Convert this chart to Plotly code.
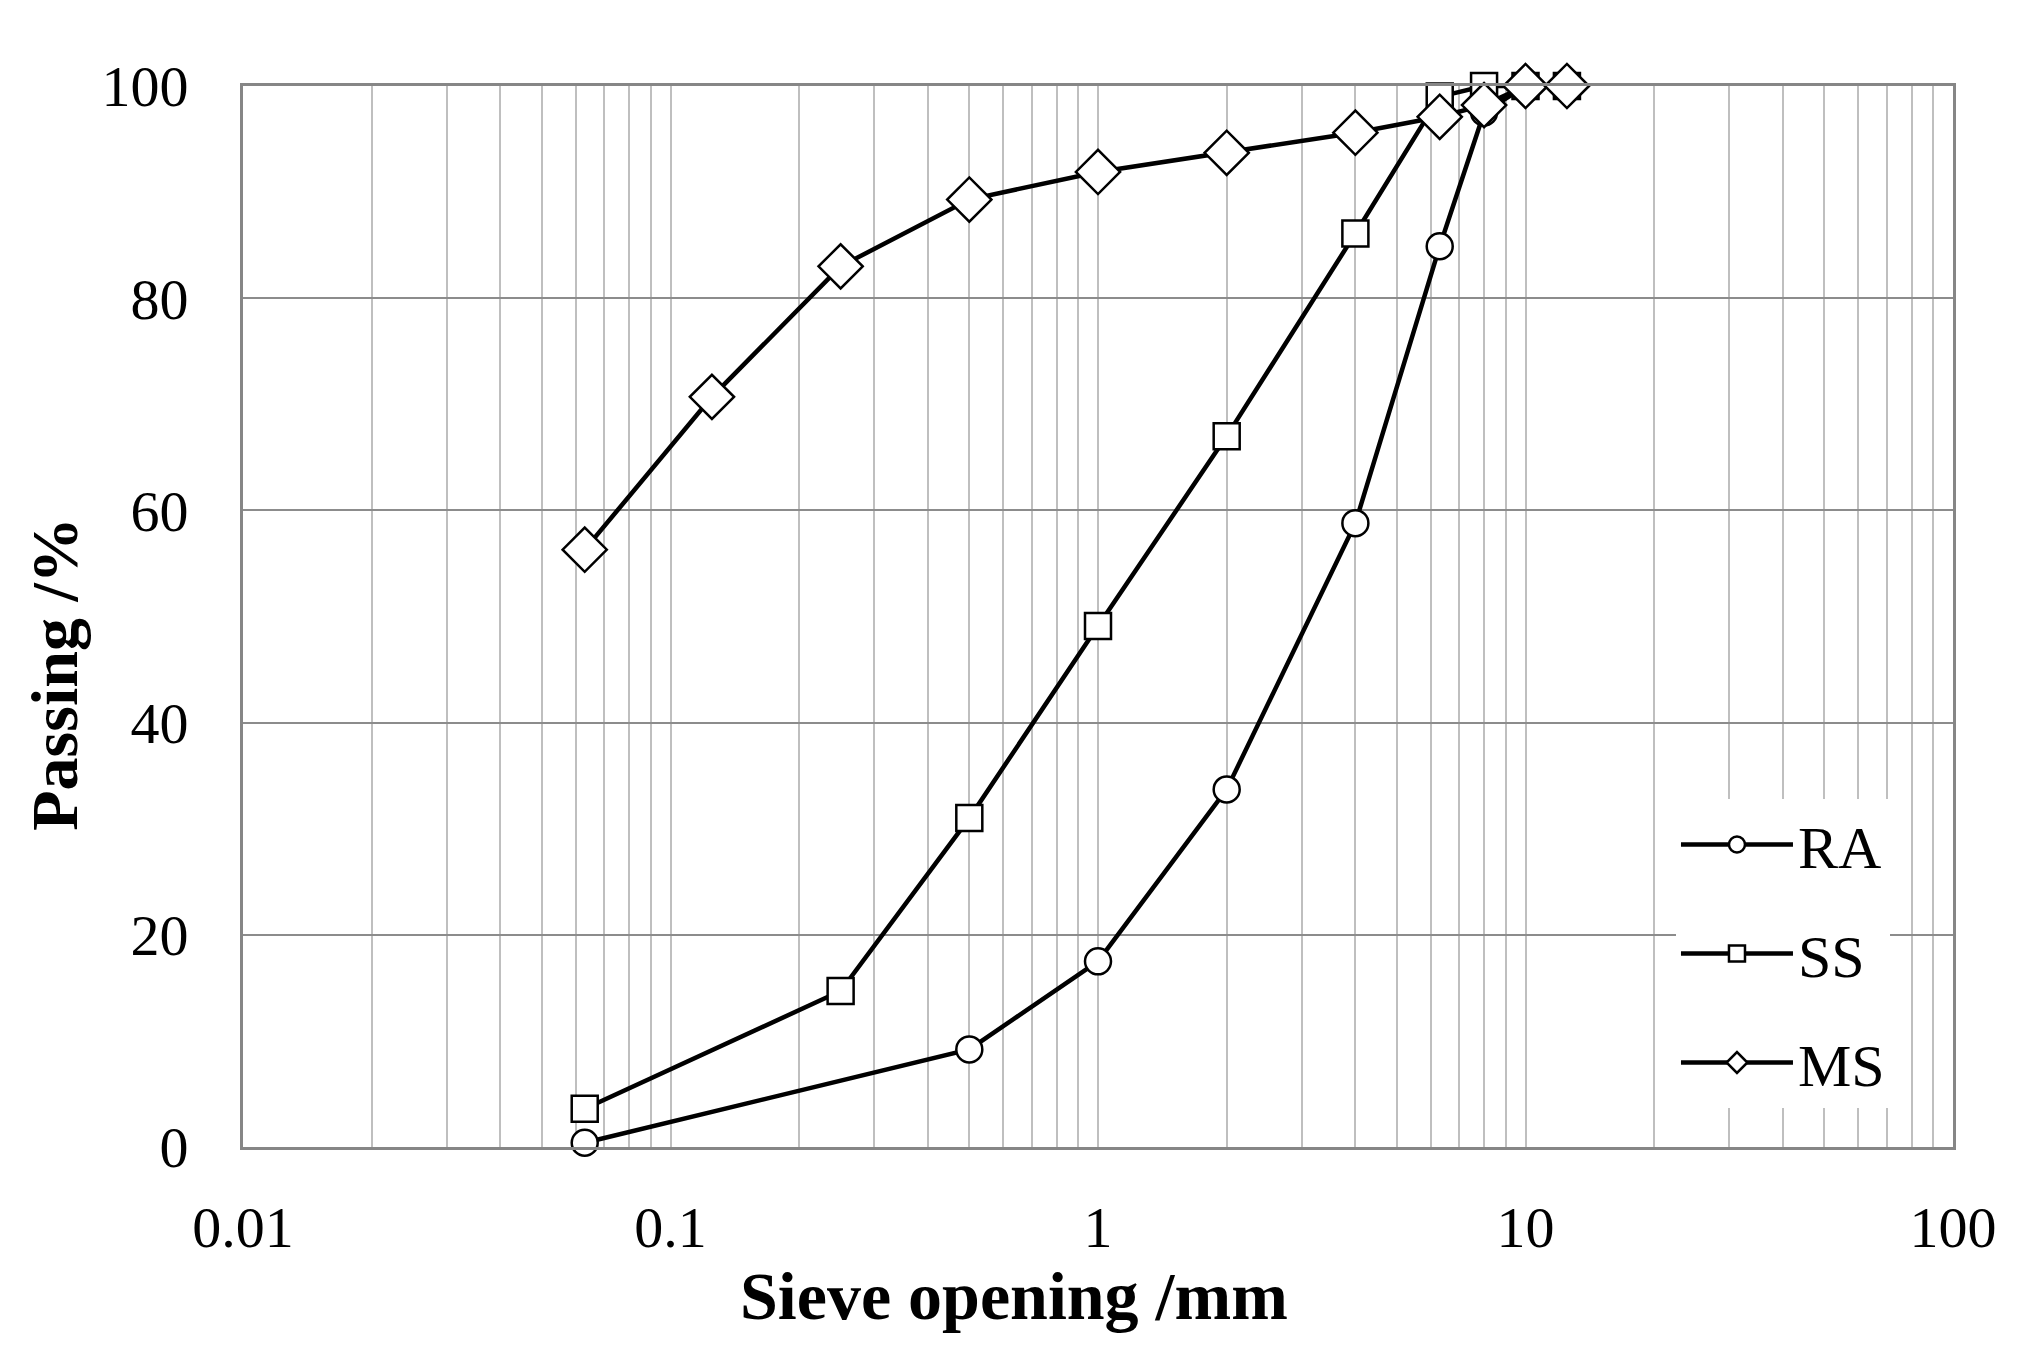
import plotly.graph_objects as go

# sieve sizes (mm) and cumulative passing (%)
ra_sieve = [0.063, 0.5, 1, 2, 4, 6.3, 8, 10, 12.5]
ra_pass = [0.4, 9.2, 17.5, 33.7, 58.8, 84.9, 97.5, 100, 100]

ss_sieve = [0.063, 0.25, 0.5, 1, 2, 4, 6.3, 8, 10, 12.5]
ss_pass = [3.6, 14.7, 31.0, 49.1, 67.0, 86.1, 99.0, 100, 100, 100]

ms_sieve = [0.063, 0.125, 0.25, 0.5, 1, 2, 4, 6.3, 8, 10, 12.5]
ms_pass = [56.3, 70.7, 83.0, 89.3, 91.9, 93.7, 95.6, 97.1, 98.2, 100, 100]

x_tickvals = [0.01, 0.1, 1, 10, 100]
x_ticktext = ["0.01", "0.1", "1", "10", "100"]
x_minorvals = [m * d for d in [0.01, 0.1, 1, 10] for m in range(2, 10)]

FONT = "Liberation Serif"

series = [
    ("RA", ra_sieve, ra_pass, "circle", 26),
    ("SS", ss_sieve, ss_pass, "square", 26),
    ("MS", ms_sieve, ms_pass, "diamond", 34),
]

fig = go.Figure()
for name, xs, ys, sym, size in series:
    fig.add_trace(go.Scatter(
        x=xs, y=ys, mode="lines+markers", name=name, legendgroup=name,
        line=dict(color="black", width=4.5),
        marker=dict(symbol=sym, size=size, color="white",
                    line=dict(color="black", width=2.5)),
        cliponaxis=False,
    ))

fig.update_layout(
    width=2020, height=1364,
    margin=dict(l=235, r=75, t=78, b=225),
    plot_bgcolor="white", paper_bgcolor="white",
    font=dict(family=FONT, size=58, color="black"),
    showlegend=True,
    legend=dict(
        x=0.838, y=0.328, xanchor="left", yanchor="top",
        bgcolor="white", borderwidth=0,
        font=dict(size=60), itemwidth=112, tracegroupgap=28,
        traceorder="grouped", itemsizing="trace",
    ),
    xaxis=dict(
        type="log", range=[-2, 2],
        tickmode="array", tickvals=x_tickvals, ticktext=x_ticktext,
        showgrid=True, gridcolor="#bfbfbf", gridwidth=2,
        minor=dict(tickmode="array", tickvals=x_minorvals, showgrid=True,
                   gridcolor="#bfbfbf", gridwidth=2, ticks=""),
        showline=True, linecolor="#868686", linewidth=3, mirror=True,
        ticks="", ticklabelstandoff=27, zeroline=False,
    ),
    yaxis=dict(
        range=[0, 100], dtick=20,
        showgrid=True, gridcolor="#8c8c8c", gridwidth=2,
        showline=True, linecolor="#868686", linewidth=3, mirror=True,
        ticks="", ticklabelstandoff=40, zeroline=False,
    ),
    annotations=[
        dict(text="<b>Sieve opening /mm</b>", xref="paper", yref="paper",
             x=0.451, y=-0.1406, xanchor="center", yanchor="middle",
             showarrow=False, font=dict(size=68)),
        dict(text="<b>Passing /%</b>", xref="paper", yref="paper",
             x=-0.11, y=0.446, xanchor="center", yanchor="middle",
             textangle=-90, showarrow=False, font=dict(size=66)),
    ],
)

fig.write_html("out.html")
